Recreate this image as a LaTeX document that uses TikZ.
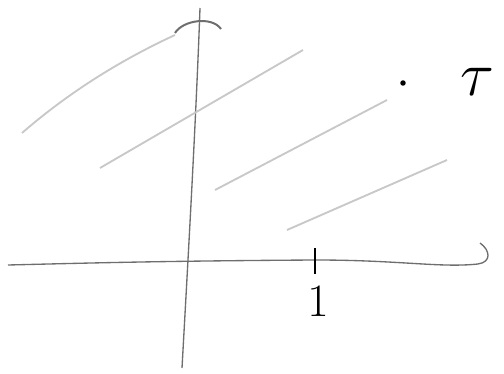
\documentclass[tikz,border=0pt]{standalone}
\usepackage{tikz}

\tikzset{every picture/.style={line width=0.75pt}}
\tikzset{axis/.style={color={rgb, 255:red, 110; green, 110; blue, 110 }, line width=1pt},
  shade line/.style={color={rgb, 255:red, 200; green, 200; blue, 200 }, line width=1.4pt}}

\begin{document}
\begin{tikzpicture}[x=0.75pt,y=0.75pt,yscale=-1,xscale=1]
\useasboundingbox (0,0) rectangle (504,374);

%Curve Lines [id:real axis] 
\draw [axis]   (8,265) .. controls (90,263) and (160,261) .. (315,260) .. controls (400,260) and (440,268) .. (478,264) .. controls (492,262) and (490,250) .. (480,243) ;
%Curve Lines [id:imaginary axis] 
\draw [axis]   (182,368) .. controls (188,260) and (196,120) .. (200,8) ;
%Curve Lines [id:top cap] 
\draw [axis, line width=1.5pt]   (175,33) .. controls (183,20) and (212,16) .. (221,29) ;
%Straight Lines [id:tick] 
\draw [color=black, line width=1.3pt]   (315,248) -- (315,274) ;

%Curve Lines [id:lattice lines] 
\draw [shade line]   (22,133) .. controls (60,100) and (110,65) .. (175,35) ;
\draw [shade line]   (100,168) -- (303,50) ;
\draw [shade line]   (215,190) -- (387,100) ;
\draw [shade line]   (287,230) -- (447,160) ;

%Shape: Circle [id:tau point] 
\draw [fill=black] (403,83) circle [x radius= 2.2, y radius= 2.2]   ;

% Text Node
\draw (318,302) node [inner sep=0.75pt, scale=1.4] (one)  {\Huge $1$};
% Text Node
\draw (477,82) node [inner sep=0.75pt, scale=1.9] (tau)  {\Huge $\tau$};

\end{tikzpicture}
\end{document}
